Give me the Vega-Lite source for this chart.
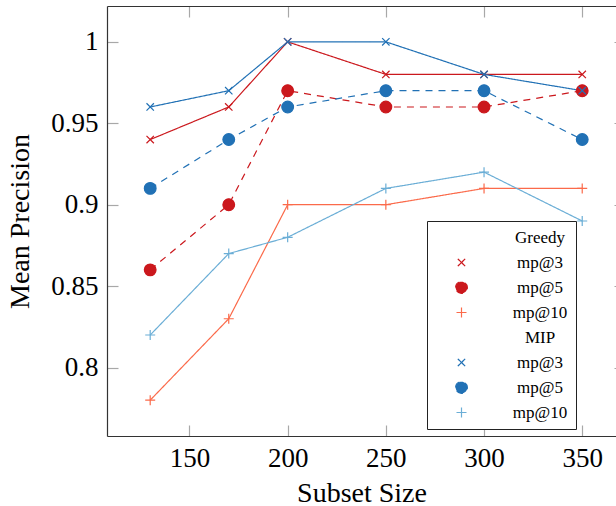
{
  "$schema": "https://vega.github.io/schema/vega-lite/v6.json",
  "width": 509,
  "height": 430,
  "autosize": {"type": "none"},
  "padding": {"left": 107, "top": 6, "right": 0, "bottom": 70},
  "config": {
    "view": {"stroke": null},
    "font": "Liberation Serif",
    "legend": {"strokeWidth": 1},
    "axis": {
      "grid": false,
      "labelFont": "Liberation Serif",
      "labelFontSize": 27,
      "labelColor": "#000",
      "titleFont": "Liberation Serif",
      "titleFontSize": 28,
      "titleFontWeight": "normal",
      "titleColor": "#000",
      "domainColor": "#333",
      "domainWidth": 1.2,
      "tickColor": "#a8a8a8",
      "tickWidth": 1.2
    }
  },
  "data": {
    "values": [
      {"series": "Greedy mp@3", "size": 130, "value": 0.94},
      {"series": "Greedy mp@3", "size": 170, "value": 0.96},
      {"series": "Greedy mp@3", "size": 200, "value": 1.0},
      {"series": "Greedy mp@3", "size": 250, "value": 0.98},
      {"series": "Greedy mp@3", "size": 300, "value": 0.98},
      {"series": "Greedy mp@3", "size": 350, "value": 0.98},
      {"series": "Greedy mp@5", "size": 130, "value": 0.86},
      {"series": "Greedy mp@5", "size": 170, "value": 0.90},
      {"series": "Greedy mp@5", "size": 200, "value": 0.97},
      {"series": "Greedy mp@5", "size": 250, "value": 0.96},
      {"series": "Greedy mp@5", "size": 300, "value": 0.96},
      {"series": "Greedy mp@5", "size": 350, "value": 0.97},
      {"series": "Greedy mp@10", "size": 130, "value": 0.78},
      {"series": "Greedy mp@10", "size": 170, "value": 0.83},
      {"series": "Greedy mp@10", "size": 200, "value": 0.90},
      {"series": "Greedy mp@10", "size": 250, "value": 0.90},
      {"series": "Greedy mp@10", "size": 300, "value": 0.91},
      {"series": "Greedy mp@10", "size": 350, "value": 0.91},
      {"series": "MIP mp@3", "size": 130, "value": 0.96},
      {"series": "MIP mp@3", "size": 170, "value": 0.97},
      {"series": "MIP mp@3", "size": 200, "value": 1.0},
      {"series": "MIP mp@3", "size": 250, "value": 1.0},
      {"series": "MIP mp@3", "size": 300, "value": 0.98},
      {"series": "MIP mp@3", "size": 350, "value": 0.97},
      {"series": "MIP mp@5", "size": 130, "value": 0.91},
      {"series": "MIP mp@5", "size": 170, "value": 0.94},
      {"series": "MIP mp@5", "size": 200, "value": 0.96},
      {"series": "MIP mp@5", "size": 250, "value": 0.97},
      {"series": "MIP mp@5", "size": 300, "value": 0.97},
      {"series": "MIP mp@5", "size": 350, "value": 0.94},
      {"series": "MIP mp@10", "size": 130, "value": 0.82},
      {"series": "MIP mp@10", "size": 170, "value": 0.87},
      {"series": "MIP mp@10", "size": 200, "value": 0.88},
      {"series": "MIP mp@10", "size": 250, "value": 0.91},
      {"series": "MIP mp@10", "size": 300, "value": 0.92},
      {"series": "MIP mp@10", "size": 350, "value": 0.89}
    ]
  },
  "encoding": {
    "stroke": {
      "field": "series",
      "type": "nominal",
      "scale": {
        "domain": ["Greedy", "Greedy mp@3", "Greedy mp@5", "Greedy mp@10", "MIP", "MIP mp@3", "MIP mp@5", "MIP mp@10"],
        "range": ["white", "#cb181d", "#cb181d", "#fb6a4a", "white", "#2171b5", "#2171b5", "#6baed6"]
      },
      "legend": {
        "title": null,
        "orient": "none",
        "legendX": 320,
        "legendY": 215,
        "padding": 8,
        "fillColor": "white",
        "strokeColor": "#222",
        "labelFont": "Liberation Serif",
        "labelFontSize": 17,
        "labelColor": "#000",
        "labelAlign": "center",
        "labelOffset": 70,
        "labelLimit": 300,
        "symbolSize": 100,
        "symbolOffset": 18,
        "symbolStrokeWidth": 1.2,
        "rowPadding": 7,
        "labelExpr": "indexof(datum.label, ' ') >= 0 ? substring(datum.label, indexof(datum.label, ' ') + 1) : datum.label",
        "encode": {
          "symbols": {
            "update": {
              "shape": {"value": {"expr": "indexof(datum.value, 'mp@3') >= 0 ? 'M-1,0H8.2M2.86,-0.74L4.34,0.74M2.86,0.74L4.34,-0.74' : indexof(datum.value, 'mp@5') >= 0 ? 'M-1,0H0.4M5.4,0H6.8M2.43,0A1.17,1.17,0,1,1,4.77,0A1.17,1.17,0,1,1,2.43,0Z' : indexof(datum.value, 'mp@10') >= 0 ? 'M-1,0H8.2M3.6,-1V1' : 'M0,0L0,0'"}},
              "fill": {"value": {"expr": "datum.value == 'Greedy mp@5' ? '#cb181d' : datum.value == 'MIP mp@5' ? '#2171b5' : 'transparent'"}}
            }
          }
        }
      }
    }
  },
  "layer": [
    {
      "mark": {"type": "line", "strokeWidth": 1.2},
      "encoding": {
        "x": {
          "field": "size",
          "type": "quantitative",
          "scale": {"domain": [108, 367.2], "nice": false, "zero": false},
          "axis": {
            "orient": "bottom",
            "values": [150, 200, 250, 300, 350],
            "tickSize": -11,
            "labelPadding": 20,
            "title": "Subset Size",
            "titlePadding": 8
          }
        },
        "y": {
          "field": "value",
          "type": "quantitative",
          "scale": {"domain": [0.758, 1.022], "nice": false, "zero": false},
          "axis": {
            "orient": "left",
            "values": [0.8, 0.85, 0.9, 0.95, 1],
            "tickSize": -11,
            "labelPadding": 20,
            "labelExpr": "toString(round(datum.value * 100) / 100)",
            "title": "Mean Precision",
            "titlePadding": 16
          }
        },
        "strokeDash": {
          "field": "series",
          "type": "nominal",
          "scale": {
            "domain": ["Greedy", "Greedy mp@3", "Greedy mp@5", "Greedy mp@10", "MIP", "MIP mp@3", "MIP mp@5", "MIP mp@10"],
            "range": [[1, 0], [1, 0], [7, 6], [1, 0], [1, 0], [1, 0], [7, 6], [1, 0]]
          },
          "legend": null
        }
      }
    },
    {
      "mark": {"type": "point", "size": 100, "strokeWidth": 1.2},
      "encoding": {
        "x": {
          "field": "size",
          "type": "quantitative",
          "axis": {
            "orient": "top",
            "values": [150, 200, 250, 300, 350],
            "tickSize": -11,
            "labels": false,
            "title": null
          }
        },
        "y": {
          "field": "value",
          "type": "quantitative",
          "axis": {
            "orient": "right",
            "values": [0.8, 0.85, 0.9, 0.95, 1],
            "tickSize": -2,
            "labels": false,
            "domain": false,
            "title": null
          }
        },
        "opacity": {"value": 1},
        "shape": {
          "field": "series",
          "type": "nominal",
          "scale": {
            "domain": ["Greedy", "Greedy mp@3", "Greedy mp@5", "Greedy mp@10", "MIP", "MIP mp@3", "MIP mp@5", "MIP mp@10"],
            "range": ["circle", "M-0.74,-0.74L0.74,0.74M-0.74,0.74L0.74,-0.74", "M-1.17,0A1.17,1.17,0,1,1,1.17,0A1.17,1.17,0,1,1,-1.17,0Z", "M-1,0H1M0,-1V1", "circle", "M-0.74,-0.74L0.74,0.74M-0.74,0.74L0.74,-0.74", "M-1.17,0A1.17,1.17,0,1,1,1.17,0A1.17,1.17,0,1,1,-1.17,0Z", "M-1,0H1M0,-1V1"]
          },
          "legend": null
        },
        "fill": {
          "field": "series",
          "type": "nominal",
          "scale": {
            "domain": ["Greedy", "Greedy mp@3", "Greedy mp@5", "Greedy mp@10", "MIP", "MIP mp@3", "MIP mp@5", "MIP mp@10"],
            "range": ["transparent", "transparent", "#cb181d", "transparent", "transparent", "transparent", "#2171b5", "transparent"]
          },
          "legend": null
        }
      }
    }
  ]
}
